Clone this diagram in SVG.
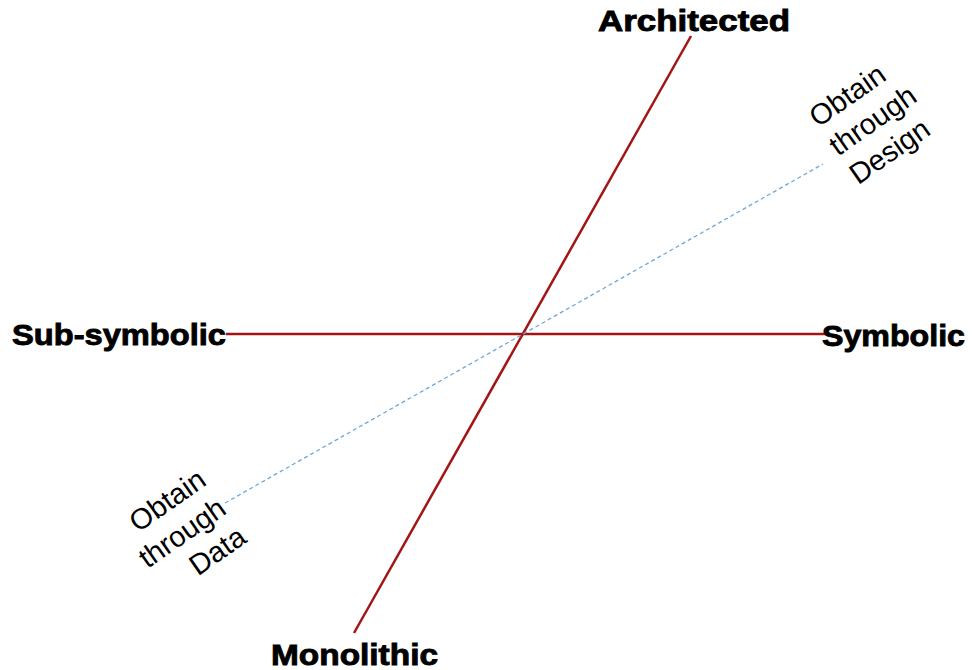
<svg xmlns="http://www.w3.org/2000/svg" width="972" height="670" viewBox="0 0 972 670">
<style>
.axis{stroke:#a31515;stroke-width:2.5;fill:none;stroke-linecap:butt}
.dash{stroke:#6fa8d6;stroke-width:1.3;fill:none;stroke-dasharray:4 3}
.pole{font-family:"Liberation Sans",Arial,sans-serif;font-weight:bold;font-size:30px;fill:#000;stroke:#000;stroke-width:0.9}
.lab{font-family:"Liberation Sans",Arial,sans-serif;font-size:29px;fill:#000}
</style>
<rect width="972" height="670" fill="#fff"/>
<g id="connectors">
<line class="axis" x1="691" y1="36" x2="354" y2="633"/>
<line class="axis" x1="226" y1="334" x2="826" y2="334"/>
<line class="dash" x1="225" y1="503" x2="823" y2="164"/>
</g>
<g id="architected"><text class="pole" x="598" y="31" textLength="192" lengthAdjust="spacingAndGlyphs">Architected</text></g>
<g id="monolithic"><text class="pole" x="271" y="665" textLength="167" lengthAdjust="spacingAndGlyphs">Monolithic</text></g>
<g id="subsymbolic"><text class="pole" x="12" y="345" textLength="214" lengthAdjust="spacingAndGlyphs">Sub-symbolic</text></g>
<g id="symbolic"><text class="pole" x="822" y="346" textLength="143" lengthAdjust="spacingAndGlyphs">Symbolic</text></g>
<g id="design" transform="translate(818,128) rotate(-35)">
<text class="lab" x="0" y="0">Obtain</text>
<text class="lab" x="0" y="35">through</text>
<text class="lab" x="0" y="70">Design</text>
</g>
<g id="data" transform="translate(208,484) rotate(-35)">
<text class="lab" x="0" y="0" text-anchor="end">Obtain</text>
<text class="lab" x="0" y="35" text-anchor="end">through</text>
<text class="lab" x="0" y="70" text-anchor="end">Data</text>
</g>
</svg>
